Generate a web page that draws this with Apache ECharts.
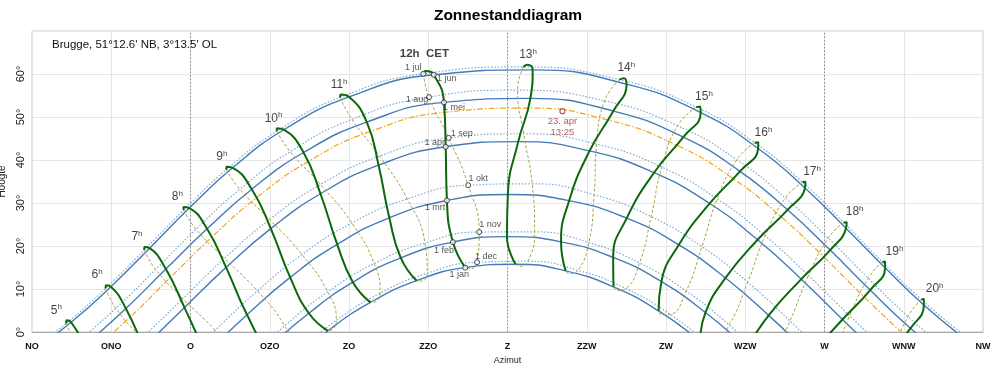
<!DOCTYPE html>
<html>
<head>
<meta charset="utf-8">
<script src="https://cdn.jsdelivr.net/npm/echarts@6/dist/echarts.min.js"></script>
<style>
html,body{margin:0;padding:0;background:#fff;}
#c{width:1000px;height:373px;}
</style>
</head>
<body>
<div id="c"></div>
<script>
// ---------- tick labels / texts ----------
const compass = ['NO','ONO','O','OZO','ZO','ZZO','Z','ZZW','ZW','WZW','W','WNW','NW'];
const yTicks = [0, 10, 20, 30, 40, 50, 60];
const monthNames = ['1 jan','1 feb','1 mrt','1 apr','1 mei','1 jun','1 jul','1 aug','1 sep','1 okt','1 nov','1 dec'];
const hours = [5,6,7,8,9,10,11,12,13,14,15,16,17,18,19,20];
const placeText = "Brugge, 51°12.6' NB, 3°13.5' OL";
const todayText = '23. apr\n13:25';
const todayPos = [195.6, 51.35];

// ---------- sun positions: [hour CET, azimuth (deg from N), altitude (deg)] ----------
const jan = [[8,117.6,-7.57],[9,129.0,0.28],[10,141.1,6.89],[11,154.2,11.93],[12,168.0,14.97],[13,182.3,15.77],[14,196.5,14.22],[15,210.1,10.50],[16,222.9,4.90],[17,234.7,-2.15]];
const feb = [[8,111.8,-3.94],[9,123.6,4.36],[10,136.1,11.59],[11,149.7,17.25],[12,164.5,20.91],[13,179.85,22.19],[14,195.2,20.96],[15,210.0,17.34],[16,223.7,11.72],[17,236.2,4.52],[18,248.0,-3.77]];
const mrt = [[7,94.3,-5.22],[8,106.05,4.02],[9,118.3,12.70],[10,131.65,20.39],[11,146.45,26.56],[12,162.8,30.59],[13,180.1,31.99],[14,197.5,30.54],[15,213.85,26.47],[16,228.65,20.27],[17,241.9,12.57],[18,254.15,3.87],[19,265.9,-5.38]];
const apr = [[6,76.6,-3.63],[7,88.3,5.67],[8,100.1,15.03],[9,112.8,24.03],[10,126.9,32.15],[11,143.4,38.79],[12,162.45,43.07],[13,183.05,44.27],[14,203.3,42.11],[15,221.6,37.04],[16,237.4,29.89],[17,251.0,21.45],[18,263.4,12.29],[19,275.1,2.91],[20,286.9,-6.29]];
const mei = [[5,60.0,-3.09],[6,71.65,5.47],[7,83.0,14.63],[8,94.7,24.0],[9,107.4,33.21],[10,122.1,41.74],[11,140.05,48.82],[12,161.95,53.40],[13,186.5,54.33],[14,210.05,51.38],[15,229.9,45.32],[16,246.0,37.37],[17,259.5,28.41],[18,271.6,19.05],[19,282.95,9.75],[20,294.4,0.86],[21,306.4,-7.23]];
const jun = [[4,44.3,-4.96],[5,56.1,2.27],[6,67.4,10.54],[7,78.4,19.5],[8,89.65,28.83],[9,101.95,38.18],[10,116.5,47.04],[11,135.05,54.66],[12,159.05,59.82],[13,187.15,60.95],[14,213.8,57.64],[15,234.85,51.04],[16,251.15,42.67],[17,264.45,33.50],[18,276.1,24.12],[19,287.2,14.93],[20,298.2,6.27],[21,309.75,-1.52]];
const jun21 = [[5,54.8,2.73],[6,66.0,10.89],[7,76.9,19.78],[8,88.0,29.08],[9,100.2,38.44],[10,114.5,47.39],[11,132.7,55.23],[12,156.7,60.69],[13,185.55,62.15],[14,213.05,59.03],[15,234.7,52.47],[16,251.2,44.11],[17,264.6,34.93],[18,276.3,25.55],[19,287.2,16.37],[20,298.2,7.71]];
const jul = [[4,42.85,-5.04],[5,54.7,2.0],[6,65.9,10.16],[7,76.85,19.05],[8,88.05,28.35],[9,100.15,37.72],[10,114.5,46.67],[11,132.45,54.53],[12,156.1,60.04],[13,184.5,61.64],[14,211.75,58.69],[15,233.6,52.29],[16,250.2,44.01],[17,263.75,34.86],[18,275.45,25.48],[19,286.45,16.27],[20,297.5,7.56],[21,308.9,-0.30]];
const aug = [[5,57.2,-2.87],[6,68.8,5.50],[7,80.1,14.54],[8,91.55,23.89],[9,104.0,33.19],[10,118.3,41.95],[11,135.85,49.44],[12,157.7,54.62],[13,182.85,56.23],[14,207.55,53.75],[15,228.3,47.96],[16,245.1,40.08],[17,258.9,31.17],[18,271.05,21.83],[19,282.4,12.50],[20,293.7,3.59],[21,305.45,-4.58]];
const sep = [[6,76.2,-1.52],[7,87.85,7.77],[8,99.65,17.13],[9,112.45,26.15],[10,126.9,34.31],[11,143.7,40.91],[12,163.3,45.13],[13,184.6,46.11],[14,205.3,43.69],[15,223.8,38.34],[16,239.55,30.96],[17,253.15,22.38],[18,265.45,13.14],[19,277.15,3.77],[20,288.9,-5.37]];
const okt = [[6,85.35,-8.97],[7,97.0,0.41],[8,109.0,9.55],[9,121.65,18.03],[10,135.8,25.36],[11,151.55,30.94],[12,168.85,34.13],[13,187.0,34.47],[14,204.6,31.91],[15,220.8,26.83],[16,235.2,19.84],[17,248.2,11.58],[18,260.2,2.55],[19,271.9,-6.81]];
const nov = [[7,105.2,-7.31],[8,116.75,1.45],[9,128.95,9.33],[10,142.15,15.91],[11,156.55,20.70],[12,171.95,23.25],[13,187.7,23.28],[14,203.1,20.79],[15,217.5,16.05],[16,230.75,9.51],[17,242.95,1.64],[18,254.55,-7.10]];
const dec = [[8,119.8,-4.92],[9,131.4,2.71],[10,143.85,9.04],[11,157.2,13.67],[12,171.35,16.22],[13,185.8,16.45],[14,200.05,14.34],[15,213.6,10.11],[16,226.2,4.08],[17,237.95,-3.33]];
const dec21 = [[8,118.8,-7.23],[9,130.2,0.50],[10,142.4,7.00],[11,155.5,11.84],[12,169.3,14.69],[13,183.5,15.28],[14,197.6,13.56],[15,211.1,9.68],[16,223.7,3.97],[17,235.5,-3.18]];
const apr23 = [[5,61.1,-5.13],[6,72.9,3.51],[7,84.3,12.70],[8,96.1,22.09],[9,108.8,31.25],[10,123.5,39.68],[11,141.1,46.64],[12,162.3,51.10],[13,185.9,52.08],[14,208.6,49.28],[15,228.0,43.45],[16,244.1,35.65],[17,257.7,26.79],[18,269.8,17.46],[19,281.3,8.12],[20,292.85,-0.85]];

// ---------- build series ----------
const FONT = 'Liberation Sans, Arial, Helvetica, sans-serif';
const solidDays = [jan, feb, mrt, apr, mei, jun];
const dottedDays = [jul, aug, sep, okt, nov, dec];
const monthsAll = [jan, feb, mrt, apr, mei, jun, jul, aug, sep, okt, nov, dec];
const solidOrder = [jan, feb, mrt, apr, mei, jun, jun21, jul];
const dashOrder = [jul, aug, sep, okt, nov, dec, dec21, jan];

const xy = d => d.map(p => [p[1], p[2]]);
function hourPts(order, h) {
  const out = [];
  order.forEach(d => { const p = d.find(q => q[0] === h); if (p) out.push([p[1], p[2]]); });
  return out;
}

const series = [];

// guide lines O, Z, W
series.push({
  type: 'line', data: [], silent: true,
  markLine: {
    silent: true, symbol: ['none', 'none'], label: { show: false },
    lineStyle: { type: [1.5, 2], color: '#8a8a8a', width: 1 },
    data: [{ xAxis: 90 }, { xAxis: 180 }, { xAxis: 270 }]
  }
});

dottedDays.forEach(d => series.push({
  type: 'line', data: xy(d), smooth: 0.5, symbol: 'none', silent: true, z: 2,
  lineStyle: { color: '#78aad8', width: 1.2, type: [1.5, 1.8] }
}));
solidDays.forEach(d => series.push({
  type: 'line', data: xy(d), smooth: 0.5, symbol: 'none', silent: true, z: 3,
  lineStyle: { color: '#447ab8', width: 1.4 }
}));
series.push({
  type: 'line', data: xy(apr23), smooth: 0.5, symbol: 'none', silent: true, z: 4,
  lineStyle: { color: '#f2a516', width: 1.2, type: [6, 2, 1.5, 2] }
});

hours.forEach(h => {
  series.push({
    type: 'line', data: hourPts(dashOrder, h), smooth: 0.5, symbol: 'none', silent: true, z: 5,
    lineStyle: { color: '#a5a544', width: 1, type: [3, 2] }
  });
  series.push({
    type: 'line', data: hourPts(solidOrder, h), smooth: 0.5, symbol: 'none', silent: true, z: 6,
    lineStyle: { color: '#0b680b', width: 2 }
  });
});

// month markers on 12h analemma
const monthLabelOffsets = [[-6,7],[-9,8],[-12,7],[-11,-4],[10,5],[13,4],[-10,-6],[-12,2],[13,-4],[10,-7],[11,-8],[9,-6]];
series.push({
  type: 'scatter', z: 9, silent: true,
  symbol: 'circle', symbolSize: 5,
  itemStyle: { color: '#ffffff', borderColor: '#222', borderWidth: 1 },
  data: monthsAll.map((d, i) => {
    const p = d.find(q => q[0] === 12);
    return {
      value: [p[1], p[2]],
      label: {
        show: true, formatter: monthNames[i], position: 'inside',
        offset: monthLabelOffsets[i], color: '#2a2a2a', fontSize: 9, fontFamily: FONT
      }
    };
  })
});

// hour labels at top of analemmas
series.push({
  type: 'scatter', z: 9, silent: true, symbolSize: 0,
  data: hours.map(h => {
    const p = jun21.find(q => q[0] === h);
    if (h === 12) {
      return {
        value: [p[1], p[2]],
        label: { show: true, position: 'inside', offset: [-1, -17], formatter: '12h  CET',
          fontWeight: 'bold', fontSize: 11.5, color: '#111', fontFamily: FONT }
      };
    }
    return {
      value: [p[1], p[2]],
      label: {
        show: true, position: 'inside', offset: [(h - 12.3) * 1.4, -10],
        formatter: '{n|' + h + '}{s|h}',
        rich: {
          n: { fontSize: 12, color: '#111', fontFamily: FONT, lineHeight: 14 },
          s: { fontSize: 8, color: '#111', fontFamily: FONT, verticalAlign: 'top', lineHeight: 14 }
        }
      }
    };
  })
});

// today marker
series.push({
  type: 'scatter', z: 9, silent: true, symbol: 'circle', symbolSize: 5,
  itemStyle: { color: '#fff', borderColor: '#993030', borderWidth: 1.2 },
  data: [{ value: todayPos }],
  label: { show: true, position: 'bottom', distance: 2, formatter: todayText,
    color: '#963434', fontSize: 9.5, lineHeight: 10.5, align: 'center', fontFamily: FONT }
});

const option = {
  animation: false,
  backgroundColor: '#ffffff',
  textStyle: { fontFamily: FONT },
  title: {
    text: 'Zonnestanddiagram', left: 508, top: 8, padding: 0, textAlign: 'center',
    textStyle: { fontSize: 15.5, fontWeight: 'bold', color: '#000', fontFamily: FONT }
  },
  graphic: [{
    type: 'text', left: 52, top: 39, z: 20,
    style: { text: placeText, fontSize: 11.5, fill: '#111', fontFamily: FONT }
  }],
  grid: { left: 32, right: 17, top: 31, bottom: 41, show: true, borderColor: '#c4c4c4', borderWidth: 1,
    containLabel: false, outerBoundsMode: 'none' },
  xAxis: {
    type: 'value', min: 45, max: 315, interval: 22.5,
    name: 'Azimut', nameLocation: 'middle', nameGap: 24,
    nameTextStyle: { fontSize: 9, color: '#222', fontFamily: FONT },
    axisLine: { show: true, lineStyle: { color: '#aaaaaa' } },
    axisTick: { show: false },
    axisLabel: { margin: 10, fontSize: 9, fontWeight: 'bold', color: '#111', fontFamily: FONT,
      formatter: v => compass[Math.round((v - 45) / 22.5)] || '' },
    splitLine: { show: true, lineStyle: { color: '#e6e6e6', width: 1 } }
  },
  yAxis: {
    type: 'value', min: 0, max: 70, interval: 10,
    name: 'Hoogte', nameLocation: 'middle', nameGap: 25,
    nameTextStyle: { fontSize: 10, color: '#222', fontFamily: FONT },
    axisLine: { show: false }, axisTick: { show: false },
    axisLabel: { margin: 6, rotate: 90, fontSize: 11, color: '#222', fontFamily: FONT,
      formatter: v => (yTicks.indexOf(v) >= 0 ? v + '°' : '') },
    splitLine: { show: true, lineStyle: { color: '#e6e6e6', width: 1 } }
  },
  series: series
};

const chart = echarts.init(document.getElementById('c'), null, { renderer: 'canvas' });
chart.setOption(option);
</script>
</body>
</html>
